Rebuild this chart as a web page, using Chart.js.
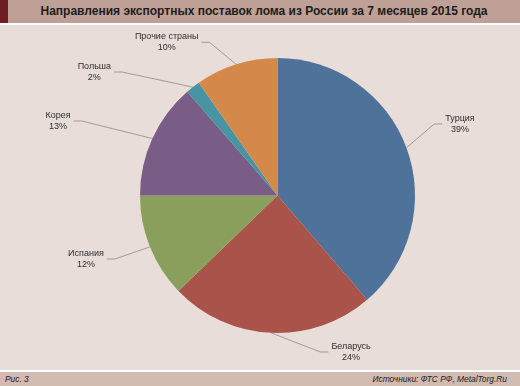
<!DOCTYPE html>
<html><head><meta charset="utf-8">
<script src="https://cdn.jsdelivr.net/npm/chart.js@4.4.1/dist/chart.umd.min.js"></script>
<style>
html,body{margin:0;padding:0;}
body{width:520px;height:386px;background:#E8DDD8;position:relative;overflow:hidden;font-family:"Liberation Sans",Arial,sans-serif;}
#wrap{position:absolute;left:0;top:0;width:520px;height:386px;}
#hdr{position:absolute;left:0;top:0;width:520px;height:23px;background:#BEA096;border-bottom:2px solid #fff;}
#hdr .sq{position:absolute;left:0;top:0;width:8px;height:23px;background:#6E1E22;}
#hdr .t{position:absolute;left:8px;right:0;top:0;line-height:23px;text-align:center;font-weight:bold;font-size:12px;color:#1c1c1c;}
#ftr{position:absolute;left:0;top:370px;width:520px;height:14px;background:#D3BAB1;border-top:2px solid #fff;font-style:italic;font-size:8.4px;color:#222;line-height:14px;}
#ftr .l{position:absolute;left:5px;top:0;}
#ftr .r{position:absolute;right:13px;top:0;}
</style>
</head><body>
<div id="wrap"><canvas id="c" width="520" height="386"></canvas></div>
<div id="hdr"><div class="sq"></div><div class="t">Направления экспортных поставок лома из России за 7 месяцев 2015 года</div></div>
<div id="ftr"><span class="l">Рис. 3</span><span class="r">Источники: ФТС РФ, MetalTorg.Ru</span></div>
<script>
const categories = ["Турция","Беларусь","Испания","Корея","Польша","Прочие страны"];
const shares = [38.7, 24.1, 12.2, 13.6, 1.7, 9.7];
const shareLabels = ["39%","24%","12%","13%","2%","10%"];

const sliceColors = ["#4E7299","#A9534A","#8A9F5B","#7A5D87","#4795A3","#D4894A"];
// label centre offsets relative to pie centre, in units of radius
const labelOffsets = [[1.327,-0.52],[0.535,1.138],[-1.393,0.462],[-1.596,-0.542],[-1.332,-0.898],[-0.806,-1.114]];

const labelPlugin = {
  id: 'pieLabels',
  afterDatasetsDraw(chart) {
    const ctx = chart.ctx;
    const meta = chart.getDatasetMeta(0);
    ctx.save();
    ctx.font = '9px "Liberation Sans", Arial, sans-serif';
    ctx.textAlign = 'center';
    ctx.textBaseline = 'middle';
    meta.data.forEach((arc, i) => {
      const p = arc.getProps(['x','y','startAngle','endAngle','outerRadius'], true);
      const mid = (p.startAngle + p.endAngle) / 2;
      const ex = p.x + p.outerRadius * Math.cos(mid);
      const ey = p.y + p.outerRadius * Math.sin(mid);
      const cx = p.x + labelOffsets[i][0] * p.outerRadius;
      const cy = p.y + labelOffsets[i][1] * p.outerRadius;
      const l1 = chart.data.labels[i], l2 = shareLabels[i];
      const w = Math.max(ctx.measureText(l1).width, ctx.measureText(l2).width);
      const dir = cx > p.x ? -1 : 1;
      const Ex = cx + dir * (w / 2 + 3);
      const Kx = Ex + dir * 8;
      ctx.strokeStyle = '#8E8A88';
      ctx.lineWidth = 0.8;
      ctx.beginPath();
      ctx.moveTo(ex, ey);
      ctx.lineTo(Kx, cy);
      ctx.lineTo(Ex, cy);
      ctx.stroke();
      ctx.fillStyle = '#2e2e2e';
      ctx.fillText(l1, cx, cy - 5.5);
      ctx.fillText(l2, cx, cy + 5.5);
    });
    ctx.restore();
  }
};

new Chart(document.getElementById('c'), {
  type: 'pie',
  data: {
    labels: categories,
    datasets: [{ data: shares, backgroundColor: sliceColors, borderWidth: 0 }]
  },
  options: {
    responsive: false,
    animation: false,
    layout: { padding: { left: 140, right: 105, top: 58, bottom: 53 } },
    plugins: { legend: { display: false }, tooltip: { enabled: false } }
  },
  plugins: [labelPlugin]
});
</script>
</body></html>
